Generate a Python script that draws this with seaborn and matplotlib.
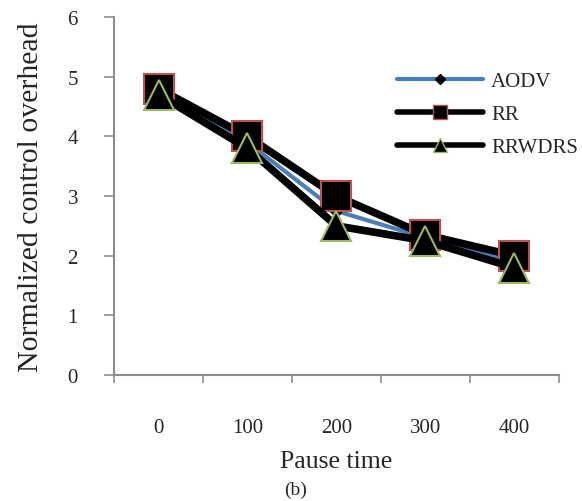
import numpy as np
import pandas as pd
import matplotlib
matplotlib.use("Agg")
import matplotlib.pyplot as plt
from matplotlib.lines import Line2D
import seaborn as sns

# ---------- data ----------
pause_time = ["0", "100", "200", "300", "400"]
aodv = [4.8, 3.9, 2.75, 2.3, 1.9]
rr = [4.8, 4.0, 3.0, 2.35, 2.0]
rrwdrs = [4.7, 3.8, 2.5, 2.25, 1.8]

sns.set_style("white")
plt.rcParams["font.family"] = ["Liberation Serif", "DejaVu Serif"]

pos = np.arange(len(pause_time))
df = pd.DataFrame({"pos": pos, "AODV": aodv, "RR": rr, "RRWDRS": rrwdrs})

fig = plt.figure(figsize=(5.82, 5.02), dpi=100)
ax = fig.add_axes([0.196, 0.251, 0.764, 0.713])

styles = {
    "AODV": dict(color="#4a7ebb", lw=3, marker="D", ms=6, mfc="black", mec="black"),
    "RR": dict(color="black", lw=5.5, marker="s", ms=21, mfc="black", mec="#c0504d", mew=1.5),
    "RRWDRS": dict(color="black", lw=5.5, marker="^", ms=22, mfc="black", mec="#9bbb59", mew=1.5),
}
for name in ["AODV", "RR", "RRWDRS"]:
    s = styles[name]
    sns.lineplot(data=df, x="pos", y=name, ax=ax, color=s["color"], linewidth=s["lw"],
                 marker=s["marker"], markersize=s["ms"], markerfacecolor=s["mfc"],
                 markeredgecolor=s["mec"], markeredgewidth=s.get("mew", 1), legend=False)

ax.set_xlim(-0.5, len(pause_time) - 0.5)
ax.set_ylim(0, 6)
ax.set_yticks(range(0, 7))
ax.set_xticks(pos)
ax.set_xticklabels(pause_time)
ax.set_xticks(np.arange(-0.5, len(pause_time)), minor=True)
ax.tick_params(axis="x", which="major", bottom=True, length=0, pad=31, labelsize=15)
ax.tick_params(axis="x", which="minor", bottom=True, length=6, width=1.2,
               color="#8c8c8c", direction="out")
ax.tick_params(axis="y", left=True, length=7, width=1.2, color="#8c8c8c",
               direction="out", pad=19, labelsize=15)
for side in ["top", "right"]:
    ax.spines[side].set_visible(False)
for side in ["left", "bottom"]:
    ax.spines[side].set_color("#8c8c8c")
    ax.spines[side].set_linewidth(1.5)

ax.set_xlabel("Pause time", fontsize=18.5, labelpad=9)
ax.set_ylabel("Normalized control overhead", fontsize=21.5, labelpad=17)

handles = [
    Line2D([], [], color="#4a7ebb", lw=3, marker="D", ms=5, mfc="black", mec="black"),
    Line2D([], [], color="black", lw=4, marker="s", ms=10, mfc="black", mec="#c0504d"),
    Line2D([], [], color="black", lw=4, marker="^", ms=10, mfc="black", mec="#9bbb59"),
]
ax.legend(handles, ["AODV", "RR", "RRWDRS"], loc="upper left", bbox_to_anchor=(0.595, 0.9),
          frameon=False, fontsize=15, handlelength=4.1, labelspacing=0.65, handletextpad=0.4)

fig.text(0.507, 0.015, "(b)", ha="center", fontsize=14)

fig.savefig("out.png", dpi=100)
